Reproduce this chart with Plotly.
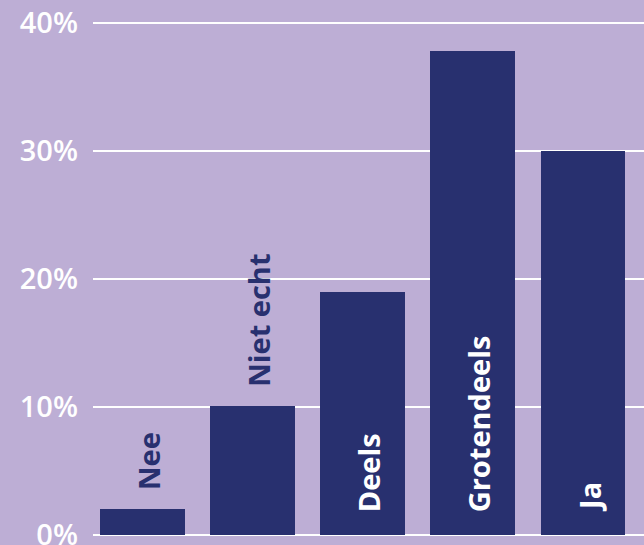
import plotly.graph_objects as go

categories = ["Nee", "Niet echt", "Deels", "Grotendeels", "Ja"]
values = [2.0, 10.1, 19.0, 37.8, 30.0]
tick_vals = [0, 10, 20, 30, 40]
tick_text = ["0%", "10%", "20%", "30%", "40%"]
inside = [False, False, True, True, True]

BG = "#bdaed5"
BAR = "#28306f"

xs = list(range(len(categories)))
fig = go.Figure()
fig.add_trace(go.Bar(x=xs, y=values, marker=dict(color=BAR, line=dict(width=0)),
                     width=0.77, hoverinfo="skip"))

for x, v, lab, ins in zip(xs, values, categories, inside):
    fig.add_annotation(
        x=x, y=0 if ins else v, text=lab, textangle=-90, showarrow=False,
        xanchor="center", yanchor="bottom", yshift=21 if ins else 17, xshift=6,
        font=dict(family="Open Sans", size=29, weight=700,
                  color="white" if ins else BAR),
    )

fig.update_layout(
    width=644, height=545, margin=dict(l=93, r=0, t=0, b=0),
    paper_bgcolor=BG, plot_bgcolor=BG, showlegend=False, bargap=0,
    xaxis=dict(range=[-0.45, 4.555], showticklabels=False, showgrid=False,
               zeroline=False, fixedrange=True, automargin=False),
    yaxis=dict(range=[-0.78, 41.8], tickvals=tick_vals, ticktext=tick_text,
               showgrid=True, gridcolor="white", gridwidth=1.5, zeroline=False,
               ticklabelstandoff=14, ticklabeloverflow="allow", automargin=False,
               tickfont=dict(family="Open Sans", size=29, weight=600, color="white")),
)
fig.write_html("out.html")
